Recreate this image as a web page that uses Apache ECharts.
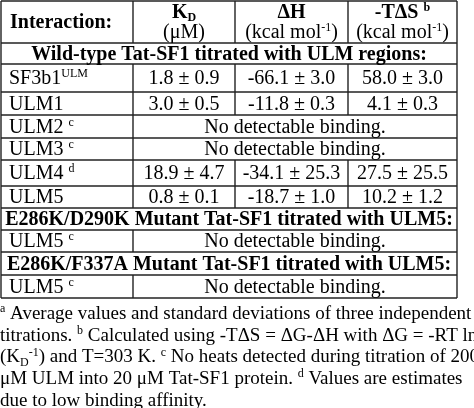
<!DOCTYPE html>
<html><head><meta charset="utf-8">
<script src="https://cdn.jsdelivr.net/npm/echarts@6/dist/echarts.min.js"></script>
<style>html,body{margin:0;padding:0;background:#fff}#c{width:474px;height:408px}</style>
</head><body><div id="c"></div>
<script>
// ---- data ----
var headers = ['Interaction:', '{b|K}{bsub|D}\n(μM)', '{b|ΔH}\n(kcal mol{sup|-1})', '{b|-TΔS }{bsup|b}\n(kcal mol{sup|-1})'];
var rowKinds = ['group','data','data','span','span','data','data','group','span','group','span'];
var rowLabels = ['Wild-type Tat-SF1 titrated with ULM regions:', 'SF3b1{sup|ULM}', 'ULM1', 'ULM2 {sup|c}', 'ULM3 {sup|c}', 'ULM4 {sup|d}', 'ULM5',
  'E286K/D290K Mutant Tat-SF1 titrated with ULM5:', 'ULM5 {sup|c}', 'E286K/F337A Mutant Tat-SF1 titrated with ULM5:', 'ULM5 {sup|c}'];
var kdValues = ['', '1.8 ± 0.9', '3.0 ± 0.5', '', '', '18.9 ± 4.7', '0.8 ± 0.1', '', '', '', ''];
var dhValues = ['', '-66.1 ± 3.0', '-11.8 ± 0.3', '', '', '-34.1 ± 25.3', '-18.7 ± 1.0', '', '', '', ''];
var tdsValues = ['', '58.0 ± 3.0', '4.1 ± 0.3', '', '', '27.5 ± 25.5', '10.2 ± 1.2', '', '', '', ''];
var spanText = 'No detectable binding.';
var footnotes = [
  '{sup|a} Average values and standard deviations of three independent',
  'titrations. {sup|b} Calculated using -TΔS = ΔG-ΔH with ΔG = -RT ln',
  '(K{sub|D}{sup|-1}) and T=303 K. {sup|c} No heats detected during titration of 200',
  'μM ULM into 20 μM Tat-SF1 protein. {sup|d} Values are estimates',
  'due to low binding affinity.'
];
// ---- layout ----
var colX = [1, 133, 235, 348, 457];
var rowY = [1, 43, 64, 92, 115, 138, 160, 186, 208, 230, 252, 275, 298];
var FONT = '"Liberation Serif", "DejaVu Serif", serif';
var FS = 20;
var rich = {
  b: {fontWeight: 'bold', fontSize: FS, fontFamily: FONT, fill: '#000'},
  bsub: {fontWeight: 'bold', fontSize: 12, fontFamily: FONT, verticalAlign: 'bottom', fill: '#000'},
  bsup: {fontWeight: 'bold', fontSize: 12, fontFamily: FONT, verticalAlign: 'top', fill: '#000'},
  sup: {fontSize: 12, fontFamily: FONT, verticalAlign: 'top', fill: '#000'},
  sub: {fontSize: 12, fontFamily: FONT, verticalAlign: 'bottom', fill: '#000'}
};
function txt(t, x, y, align, bold, size, lh) {
  return {type: 'text', x: x, y: y, silent: true, style: {
    text: t, align: align, verticalAlign: 'middle', fill: '#000',
    font: (bold ? 'bold ' : '') + (size || FS) + 'px ' + FONT,
    lineHeight: lh || 22, rich: rich}};
}
function line(x1, y1, x2, y2) {
  return {type: 'line', silent: true, shape: {x1: x1, y1: y1, x2: x2, y2: y2}, style: {stroke: '#222', lineWidth: 1.4}};
}
var els = [];
var L = colX[0], R = colX[4];
rowY.forEach(function (y) { els.push(line(L, y, R, y)); });
els.push(line(L, rowY[0], L, rowY[rowY.length - 1]));
els.push(line(R, rowY[0], R, rowY[rowY.length - 1]));
// header
for (var c = 1; c < 4; c++) els.push(line(colX[c], rowY[0], colX[c], rowY[1]));
els.push(txt(headers[0], 10, (rowY[0] + rowY[1]) / 2 + 1, 'left', true));
for (var c = 1; c < 4; c++) {
  var cx = (colX[c] + colX[c + 1]) / 2;
  var h = headers[c].split('\n');
  els.push(txt(h[0], cx, rowY[0] + 12, 'center', false));
  els.push(txt(h[1], cx, rowY[0] + 32, 'center', false));
}
rowKinds.forEach(function (k, i) {
  var y0 = rowY[i + 1], y1 = rowY[i + 2], cy = (y0 + y1) / 2 + 1;
  if (k === 'group') {
    els.push(txt(rowLabels[i], (L + R) / 2, cy, 'center', true));
    return;
  }
  els.push(line(colX[1], y0, colX[1], y1));
  els.push(txt(rowLabels[i], 9, cy, 'left', false));
  if (k === 'span') {
    els.push(txt(spanText, (colX[1] + R) / 2, cy, 'center', false));
  } else {
    els.push(line(colX[2], y0, colX[2], y1));
    els.push(line(colX[3], y0, colX[3], y1));
    [kdValues, dhValues, tdsValues].forEach(function (arr, j) {
      els.push(txt(arr[i], (colX[j + 1] + colX[j + 2]) / 2, cy, 'center', false));
    });
  }
});
footnotes.forEach(function (f, i) {
  els.push(txt(f, 0, 314 + i * 21.7, 'left', false, 19));
});
var chart = echarts.init(document.getElementById('c'), null, {renderer: 'canvas'});
chart.setOption({animation: false, graphic: {elements: els}});
</script></body></html>
